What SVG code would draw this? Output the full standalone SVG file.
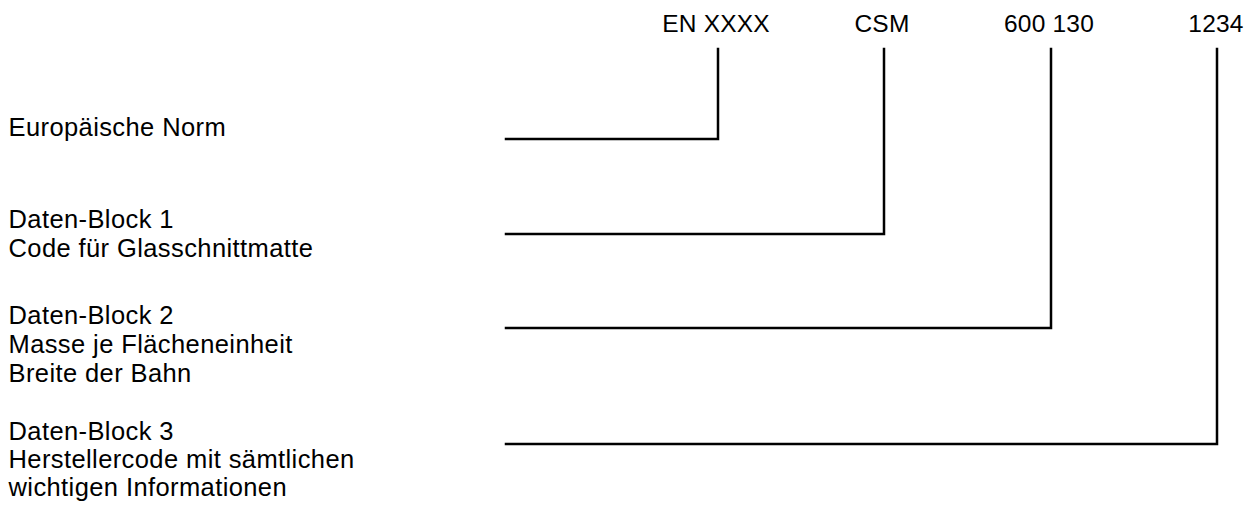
<svg xmlns="http://www.w3.org/2000/svg" width="1256" height="509" viewBox="0 0 1256 509">
<style>
text{font-family:"Liberation Sans",Arial,sans-serif;fill:#000}
.t{font-size:24.5px;letter-spacing:0.2px;text-anchor:middle}
.l{font-size:25.5px;letter-spacing:0.4px}
.ln{fill:none;stroke:#000;stroke-width:2.5;stroke-linecap:square}
</style>
<rect width="1256" height="509" fill="#fff"/>
<g id="code-en"><text class="t" x="716" y="32">EN XXXX</text></g>
<g id="code-csm"><text class="t" x="882" y="32">CSM</text></g>
<g id="code-600"><text class="t" x="1049" y="32">600 130</text></g>
<g id="code-1234"><text class="t" x="1216" y="32">1234</text></g>
<g id="label-norm"><text class="l" x="8.5" y="136">Europäische Norm</text></g>
<g id="label-block1"><text class="l" x="8.5" y="228">Daten-Block 1</text><text class="l" x="8.5" y="257">Code für Glasschnittmatte</text></g>
<g id="label-block2"><text class="l" x="8.5" y="323.5">Daten-Block 2</text><text class="l" x="8.5" y="353">Masse je Flächeneinheit</text><text class="l" x="8.5" y="382">Breite der Bahn</text></g>
<g id="label-block3"><text class="l" x="8.5" y="440">Daten-Block 3</text><text class="l" x="8.5" y="468">Herstellercode mit sämtlichen</text><text class="l" x="8.5" y="495.5">wichtigen Informationen</text></g>
<g id="connectors">
<polyline class="ln" points="506,139 718,139 718,49"/>
<polyline class="ln" points="506,234 884,234 884,49"/>
<polyline class="ln" points="506,328 1051,328 1051,49"/>
<polyline class="ln" points="506,444 1217,444 1217,49"/>
</g>
</svg>
